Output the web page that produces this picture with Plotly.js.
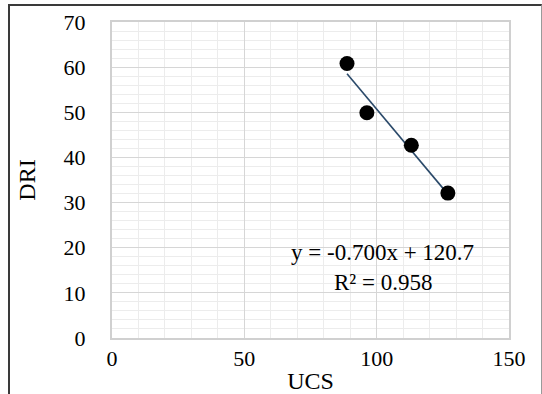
<!DOCTYPE html>
<html>
<head>
<meta charset="utf-8">
<script src="https://cdn.plot.ly/plotly-3.0.1.min.js"></script>
<style>
  html, body { margin: 0; padding: 0; background: #fff; }
  #wrap { position: relative; width: 542px; height: 394px; overflow: hidden; }
  #frame { position: absolute; left: 8px; top: 4px; width: 531px; height: 400px;
           border-left: 2px solid #3a3a3a; border-top: 2px solid #3a3a3a; border-right: 1px solid #9a9a9a; }
  #chart { position: absolute; left: 0; top: 0; width: 542px; height: 394px; }
</style>
</head>
<body>
<div id="wrap">
  <div id="frame"></div>
  <div id="chart"></div>
</div>
<script>
// Data
const ucs = [88.8, 96.3, 113.1, 126.9];
const dri = [60.8, 49.9, 42.7, 32.1];
// Trendline shown on the chart
const slope = -0.700;
const intercept = 120.7;
const r2 = 0.958;
const xTicks = [0, 50, 100, 150];
const yTicks = [0, 10, 20, 30, 40, 50, 60, 70];

const xMin = Math.min(...ucs), xMax = Math.max(...ucs);
const trendX = [xMin, xMax];
const trendY = trendX.map(v => slope * v + intercept);

const serif = 'Liberation Serif, Times New Roman, serif';

const traces = [
  { x: trendX, y: trendY, type: 'scatter', mode: 'lines',
    line: { color: '#2b4a6a', width: 1.6 }, hoverinfo: 'skip', showlegend: false },
  { x: ucs, y: dri, type: 'scatter', mode: 'markers',
    marker: { color: '#000', size: 15 }, showlegend: false }
];

const layout = {
  width: 542, height: 394,
  margin: { l: 112, r: 33, t: 22, b: 56 },
  paper_bgcolor: 'rgba(0,0,0,0)',
  plot_bgcolor: '#fff',
  font: { family: serif, color: '#000' },
  xaxis: {
    range: [0, 150], tickvals: xTicks, ticktext: xTicks.map(String),
    showgrid: true, gridcolor: '#d6d6d6', gridwidth: 1,
    minor: { dtick: 10, showgrid: true, gridcolor: '#ececec', gridwidth: 1 },
    zeroline: false, showline: true, linecolor: '#d0d0d0', linewidth: 2, mirror: true,
    ticks: '', ticklen: 0,
    tickfont: { family: serif, size: 22, color: '#000' },
    title: { text: 'UCS', font: { family: serif, size: 24, color: '#000' }, standoff: 8 }
  },
  yaxis: {
    range: [0, 70], tickvals: yTicks, ticktext: yTicks.map(String),
    showgrid: true, gridcolor: '#d6d6d6', gridwidth: 1,
    minor: { dtick: 2, showgrid: true, gridcolor: '#ececec', gridwidth: 1 },
    zeroline: false, showline: true, linecolor: '#d0d0d0', linewidth: 2, mirror: true,
    ticks: 'outside', ticklen: 20, tickcolor: 'rgba(0,0,0,0)',
    tickfont: { family: serif, size: 22, color: '#000' },
    title: { text: 'DRI', font: { family: serif, size: 24, color: '#000' }, standoff: 21 }
  },
  annotations: [
    { x: 102.3, y: 18.9, xref: 'x', yref: 'y', showarrow: false,
      text: 'y = ' + slope.toFixed(3) + 'x + ' + intercept.toFixed(1),
      font: { family: serif, size: 23, color: '#000' } },
    { x: 102.3, y: 12.4, xref: 'x', yref: 'y', showarrow: false,
      text: 'R² = ' + r2.toFixed(3),
      font: { family: serif, size: 23, color: '#000' } }
  ]
};

Plotly.newPlot('chart', traces, layout, { displayModeBar: false, staticPlot: true });
</script>
</body>
</html>
